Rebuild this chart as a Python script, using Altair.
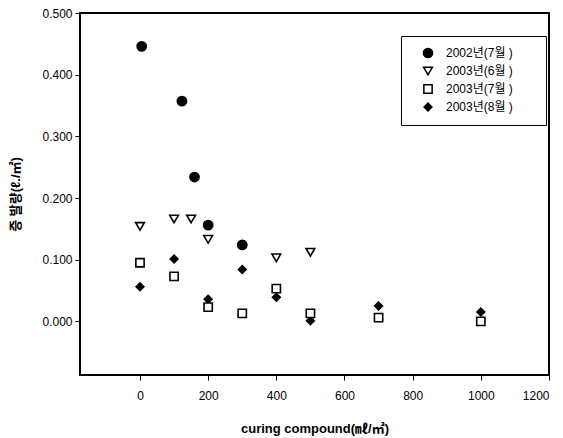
import altair as alt
import pandas as pd

series_names = ["2002년(7월 )", "2003년(6월 )", "2003년(7월 )", "2003년(8월 )"]

x_2002_07 = [5, 123, 160, 200, 300]
y_2002_07 = [0.446, 0.357, 0.234, 0.156, 0.124]

x_2003_06 = [0, 100, 150, 200, 400, 500]
y_2003_06 = [0.154, 0.166, 0.166, 0.133, 0.103, 0.112]

x_2003_07 = [0, 100, 200, 300, 400, 500, 700, 1000]
y_2003_07 = [0.095, 0.073, 0.023, 0.013, 0.053, 0.013, 0.006, 0.000]

x_2003_08 = [0, 100, 200, 300, 400, 500, 700, 1000]
y_2003_08 = [0.056, 0.101, 0.036, 0.084, 0.039, 0.001, 0.025, 0.015]

x_ticks = [0, 200, 400, 600, 800, 1000, 1200]
y_ticks = [0.0, 0.1, 0.2, 0.3, 0.4, 0.5]

draw_order = {series_names[0]: 0, series_names[1]: 1, series_names[2]: 3, series_names[3]: 2}

rows = []
for name, xs, ys in zip(series_names,
                        [x_2002_07, x_2003_06, x_2003_07, x_2003_08],
                        [y_2002_07, y_2003_06, y_2003_07, y_2003_08]):
    for xv, yv in zip(xs, ys):
        rows.append({"series": name, "x": xv, "y": yv, "ord": draw_order[name]})
df = pd.DataFrame(rows)

FONT = "Liberation Sans, Arial, 'Noto Sans CJK KR', sans-serif"

legend = alt.Legend(
    title=".", titleOrient="right", titleColor="white", titlePadding=19,
    titleFontSize=10,
    orient="none", legendX=321, legendY=23,
    strokeColor="black", fillColor="white", padding=11,
    rowPadding=3, labelFont=FONT, labelFontSize=12, labelColor="black",
    symbolStrokeWidth=1.5,
    labelOffset=12, symbolOffset=10,
)

chart = alt.Chart(df).mark_point(strokeWidth=1.6, opacity=1, filled=False).encode(
    x=alt.X("x:Q",
            scale=alt.Scale(domain=[-176, 1200], nice=False, zero=False),
            axis=alt.Axis(values=x_ticks, format="d", title="curing compound(㎖/㎡)",
                          titleY=53, titleBaseline="middle")),
    y=alt.Y("y:Q",
            scale=alt.Scale(domain=[-0.087, 0.5], nice=False, zero=False),
            axis=alt.Axis(values=y_ticks, format=".3f", title="증 발량(ℓ./㎡)",
                          titleX=-65, titleBaseline="middle")),
    shape=alt.Shape("series:N",
                    scale=alt.Scale(domain=series_names,
                                    range=["circle", "triangle-down", "square", "diamond"]),
                    legend=legend),
    fill=alt.Fill("series:N",
                  scale=alt.Scale(domain=series_names,
                                  range=["black", "white", "white", "black"]),
                  legend=legend),
    stroke=alt.Stroke("series:N",
                      scale=alt.Scale(domain=series_names,
                                      range=["black", "black", "black", "black"]),
                      legend=legend),
    size=alt.Size("series:N",
                  scale=alt.Scale(domain=series_names, range=[85, 60, 48, 150]),
                  legend=legend),
    order=alt.Order("ord:Q"),
).properties(
    width=469, height=362,
    autosize=alt.AutoSizeParams(type="none"),
    padding={"left": 72, "top": 5, "right": 6, "bottom": 64},
).configure_view(
    stroke="black", strokeWidth=2,
).configure_axis(
    grid=False, domain=False,
    tickColor="black", tickSize=5, tickWidth=1,
    labelFont=FONT, labelFontSize=12, labelColor="black", labelPadding=3,
    titleFont=FONT, titleFontSize=13, titleFontWeight="bold", titleColor="black",
).configure_axisX(labelPadding=10)

chart.save("out.html", embed_options={"renderer": "svg", "actions": False})
